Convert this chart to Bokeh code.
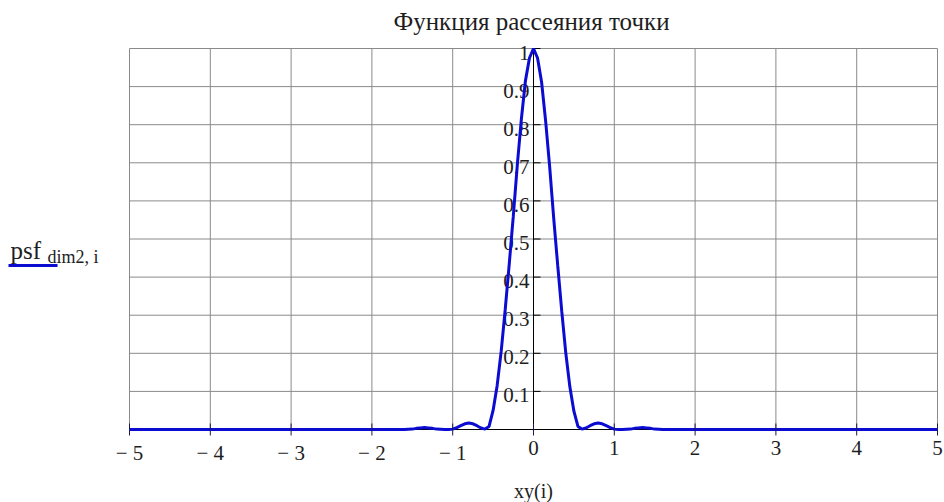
import math
from bokeh.plotting import figure
from bokeh.models import ColumnDataSource, Label, Arrow, Range1d
from bokeh.core.properties import value
from bokeh.embed import file_html
from bokeh.resources import INLINE

# ---- data ----
xy = [-5.0, -1.6, -1.5, -1.45, -1.4, -1.35, -1.3, -1.25, -1.2, -1.1, -1.05,
      -1.0, -0.95, -0.9, -0.85, -0.8, -0.75, -0.7, -0.65, -0.6, -0.55, -0.5,
      -0.45, -0.4, -0.35, -0.3, -0.25, -0.2, -0.15, -0.1, -0.05, 0.0,
      0.05, 0.1, 0.15, 0.2, 0.25, 0.3, 0.35, 0.4, 0.45, 0.5, 0.55, 0.6,
      0.65, 0.7, 0.75, 0.8, 0.85, 0.9, 0.95, 1.0, 1.05, 1.1, 1.2, 1.25,
      1.3, 1.35, 1.4, 1.45, 1.5, 1.6, 5.0]
psf = [0.0, 0.0, 0.001, 0.003, 0.004, 0.005, 0.004, 0.003, 0.001, 0.0, 0.0,
       0.001, 0.005, 0.010, 0.015, 0.017, 0.015, 0.010, 0.004, 0.001, 0.008, 0.050,
       0.115, 0.205, 0.315, 0.435, 0.560, 0.695, 0.815, 0.915, 0.975, 1.0,
       0.975, 0.912, 0.810, 0.690, 0.555, 0.430, 0.310, 0.200, 0.112, 0.048, 0.008, 0.001,
       0.004, 0.010, 0.015, 0.017, 0.015, 0.010, 0.005, 0.001, 0.0, 0.0, 0.001, 0.003,
       0.004, 0.005, 0.004, 0.003, 0.001, 0.0, 0.0]

x_ticks = [-5, -4, -3, -2, -1, 0, 1, 2, 3, 4, 5]
x_tick_labels = ["\u2212 5", "\u2212 4", "\u2212 3", "\u2212 2", "\u2212 1",
                 "0", "1", "2", "3", "4", "5"]
y_grid = [0.0, 0.1, 0.2, 0.3, 0.4, 0.5, 0.6, 0.7, 0.8, 0.9, 1.0]
y_ticks = [0.1, 0.2, 0.3, 0.4, 0.5, 0.6, 0.7, 0.8, 0.9, 1.0]
y_tick_labels = ["0.1", "0.2", "0.3", "0.4", "0.5", "0.6", "0.7", "0.8", "0.9", "1"]

title_text = "Функция рассеяния точки"
x_label = "xy(i)"
y_label_main = "psf"
y_label_sub = "dim2, i"

SERIF = "Liberation Serif"
TXT = "#1e1e1e"
BLUE = "#0b0bd2"
GRID = "#8a8a8a"

# layout: the frame covers the whole canvas; the plotting box sits inside it
W, H = 944, 502
PLOT_L, PLOT_R, PLOT_T, PLOT_B = 129, 937, 48, 429
xmin, xmax = x_ticks[0], x_ticks[-1]
ymin, ymax = y_grid[0], y_grid[-1]
ppx = (PLOT_R - PLOT_L) / (xmax - xmin)
ppy = (PLOT_B - PLOT_T) / (ymax - ymin)

p = figure(width=W, height=H,
           x_range=Range1d(xmin - PLOT_L / ppx, xmax + (W - PLOT_R) / ppx),
           y_range=Range1d(ymin - (H - PLOT_B) / ppy, ymax + PLOT_T / ppy),
           output_backend="svg", toolbar_location=None,
           min_border_left=0, min_border_right=0,
           min_border_top=0, min_border_bottom=0,
           x_axis_location=None, y_axis_location=None)
p.background_fill_color = "white"
p.border_fill_color = "white"
p.outline_line_color = None
p.xgrid.visible = False
p.ygrid.visible = False

# grid over the plotting box
p.segment(x0=x_ticks, y0=[ymin] * len(x_ticks), x1=x_ticks, y1=[ymax] * len(x_ticks),
          line_color=GRID, line_width=1)
p.segment(x0=[xmin] * len(y_grid), y0=y_grid, x1=[xmax] * len(y_grid), y1=y_grid,
          line_color=GRID, line_width=1)

# horizontal axis line at y = 0
p.segment(x0=[xmin], y0=[ymin], x1=[xmax], y1=[ymin], line_color="black", line_width=1)
p.text(x=x_ticks, y=[ymin] * len(x_ticks), text=x_tick_labels,
       text_align="center", text_baseline="top", y_offset=11,
       text_font=value(SERIF), text_font_size="21px", text_color=TXT)

# vertical axis through x = 0
p.segment(x0=[0], y0=[ymin], x1=[0], y1=[ymax], line_color="black", line_width=1)
p.ray(x=[0] * len(y_ticks), y=y_ticks, length=7, length_units="screen",
      angle=0, line_color="black", line_width=1)
p.text(x=[0] * len(y_ticks), y=y_ticks, text=y_tick_labels,
       text_align="right", text_baseline="middle", x_offset=-4, y_offset=4,
       text_font=value(SERIF), text_font_size="21px", text_color=TXT)

# curve
src = ColumnDataSource(dict(x=xy, y=psf))
p.line("x", "y", source=src, line_color=BLUE, line_width=3)

# x ticks drawn over the curve
for ang in (math.pi / 2, -math.pi / 2):
    p.ray(x=x_ticks, y=[ymin] * len(x_ticks), length=6, length_units="screen",
          angle=ang, line_color="#1a1a50", line_width=1)

# title
p.add_layout(Label(x=531, y=H - 21, x_units="screen", y_units="screen",
                   text=title_text, text_font=SERIF, text_font_size="25px",
                   text_color=TXT, text_baseline="middle", text_align="center"))

# x label
p.add_layout(Label(x=533, y=H - 490, x_units="screen", y_units="screen",
                   text=x_label, text_font=SERIF, text_font_size="20px",
                   text_color=TXT, text_baseline="middle", text_align="center"))

# y label with subscript and line sample
p.add_layout(Label(x=10, y=H - 250, x_units="screen", y_units="screen",
                   text=y_label_main, text_font=SERIF, text_font_size="25px",
                   text_color=TXT, text_baseline="alphabetic", text_align="left"))
p.add_layout(Label(x=47, y=H - 256, x_units="screen", y_units="screen",
                   text=y_label_sub, text_font=SERIF, text_font_size="18px",
                   text_color=TXT, text_baseline="alphabetic", text_align="left"))
p.add_layout(Arrow(end=None, x_start=8, y_start=H - 265, x_end=57, y_end=H - 265,
                   start_units="screen", end_units="screen",
                   line_color=BLUE, line_width=3))

open("out.html", "w").write(file_html(p, INLINE))
